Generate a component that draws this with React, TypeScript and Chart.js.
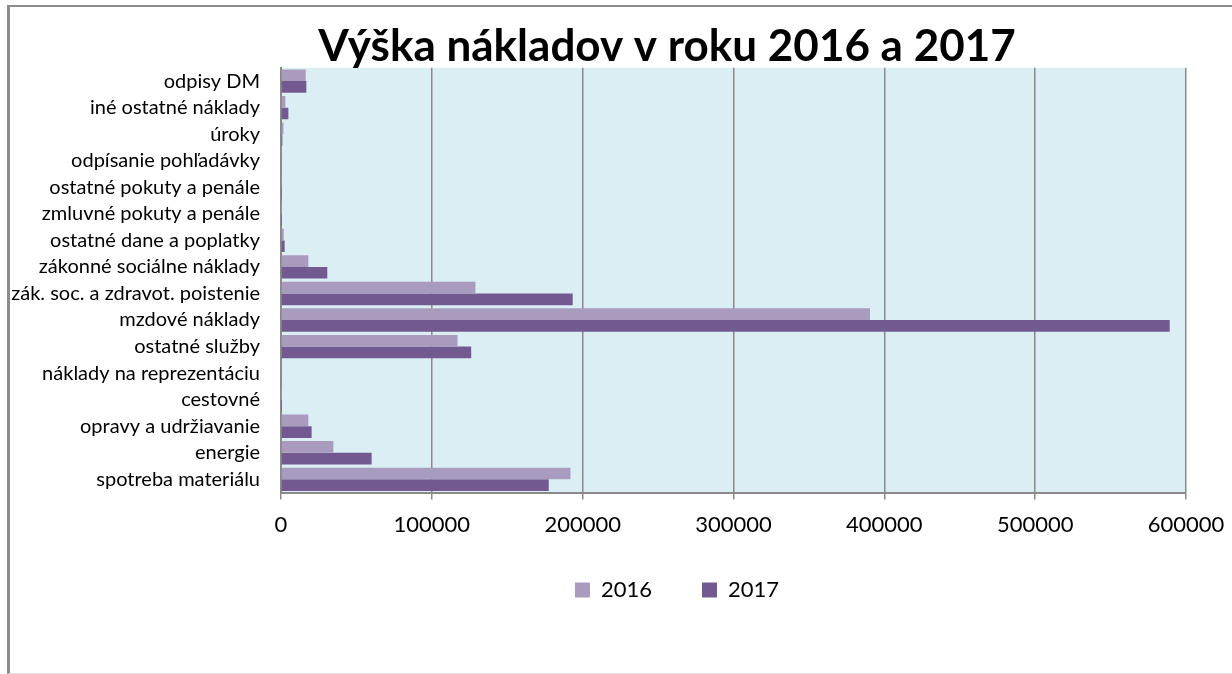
import React, { useEffect, useRef } from "react";
import { Chart, registerables } from "chart.js";

Chart.register(...registerables);

const categories = [
  "odpisy DM",
  "iné ostatné náklady",
  "úroky",
  "odpísanie pohľadávky",
  "ostatné pokuty a penále",
  "zmluvné pokuty a penále",
  "ostatné dane a poplatky",
  "zákonné sociálne náklady",
  "zák. soc. a zdravot. poistenie",
  "mzdové náklady",
  "ostatné služby",
  "náklady na reprezentáciu",
  "cestovné",
  "opravy a udržiavanie",
  "energie",
  "spotreba materiálu",
];

const values2016 = [16400, 2900, 1600, 700, 300, 200, 1800, 18100, 128900, 390500, 117000, 700, 200, 18100, 34700, 191900];
const values2017 = [16800, 4900, 900, 500, 200, 100, 2400, 30700, 193400, 589200, 126100, 500, 100, 20300, 60100, 177500];

const seriesNames = ["2016", "2017"];
const xTickValues = [0, 100000, 200000, 300000, 400000, 500000, 600000];

const titleText = "Výška nákladov v roku 2016 a 2017";

const plotBackground = {
  id: "plotBackground",
  beforeDraw(chart: any) {
    const { ctx, chartArea } = chart;
    if (!chartArea) return;
    ctx.save();
    ctx.fillStyle = "#DBEEF4";
    ctx.fillRect(chartArea.left, chartArea.top, chartArea.right - chartArea.left, chartArea.bottom - chartArea.top);
    ctx.restore();
  },
};

// shift title and legend boxes to match the original's placement
const boxShift = {
  id: "boxShift",
  afterLayout(chart: any) {
    const t = chart.titleBlock;
    if (t) {
      t.left += 46;
      t.right += 46;
    }
    const l = chart.legend;
    if (l) {
      l.left += 56;
      l.right += 56;
      l.top -= 21;
      l.bottom -= 21;
    }
  },
};

export default function App() {
  const canvasRef = useRef<HTMLCanvasElement | null>(null);

  useEffect(() => {
    const canvas = canvasRef.current;
    if (!canvas) return;
    const font = "Lato, 'Open Sans', sans-serif";
    const chart = new Chart(canvas, {
      type: "bar",
      data: {
        labels: categories,
        datasets: [
          {
            label: seriesNames[0],
            data: values2016,
            backgroundColor: "#A99BBE",
            borderWidth: 0,
            categoryPercentage: 0.88,
            barPercentage: 1.0,
          },
          {
            label: seriesNames[1],
            data: values2017,
            backgroundColor: "#725A91",
            borderWidth: 0,
            categoryPercentage: 0.88,
            barPercentage: 1.0,
          },
        ],
      },
      options: {
        indexAxis: "y",
        responsive: false,
        animation: false,
        layout: { padding: { left: 0, right: 0, top: 0, bottom: 41 } },
        plugins: {
          title: {
            display: true,
            text: titleText,
            color: "#000000",
            font: { family: font, size: 44, weight: "bold", lineHeight: 1.2 },
            padding: { top: 13, bottom: -5 },
          },
          legend: {
            display: true,
            position: "bottom",
            labels: {
              color: "#000000",
              font: { family: font, size: 22 },
              boxWidth: 15,
              boxHeight: 15,
              padding: 50,
            },
          },
          tooltip: { enabled: false },
        },
        scales: {
          x: {
            min: 0,
            max: 600000,
            afterBuildTicks: (scale: any) => {
              scale.ticks = xTickValues.map((v) => ({ value: v }));
            },
            afterFit: (scale: any) => {
              scale.paddingRight = 46;
            },
            ticks: {
              color: "#000000",
              font: { family: font, size: 22 },
              padding: 12,
              maxRotation: 0,
              callback: (value: any) => String(value),
            },
            grid: {
              color: "#8A8A8A",
              lineWidth: 1.5,
              tickLength: 7,
              drawTicks: true,
            },
            border: { display: true, color: "#8A8A8A", width: 2 },
          },
          y: {
            afterFit: (scale: any) => {
              scale.width = 271;
            },
            ticks: {
              color: "#000000",
              font: { family: font, size: 20 },
              padding: 21,
              autoSkip: false,
            },
            grid: { display: false, drawTicks: false },
            border: { display: true, color: "#8A8A8A", width: 2 },
          },
        },
      },
      plugins: [plotBackground, boxShift],
    });
    return () => chart.destroy();
  }, []);

  return (
    <div
      style={{
        position: "absolute",
        left: 7,
        top: 5,
        width: 1222,
        height: 666,
        borderLeft: "3px solid #8C8C8C",
        borderTop: "2px solid #8C8C8C",
        borderBottom: "1px solid #E0E0E0",
        background: "#FFFFFF",
      }}
    >
      <canvas ref={canvasRef} width={1222} height={666} style={{ display: "block" }} />
    </div>
  );
}
